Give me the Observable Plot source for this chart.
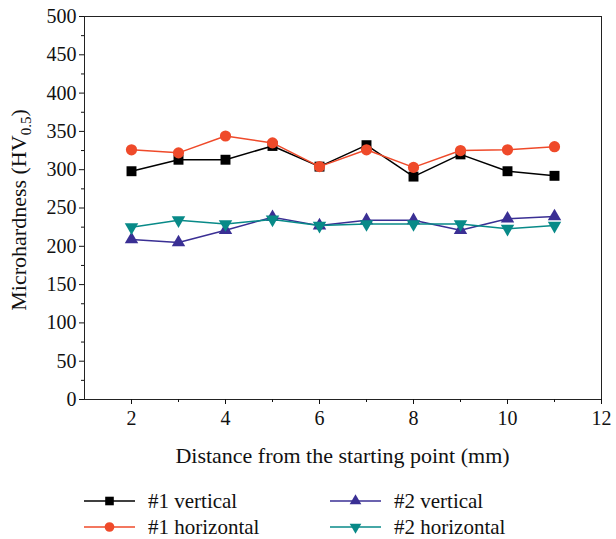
<!DOCTYPE html>
<html><head><meta charset="utf-8">
<script src="https://cdn.jsdelivr.net/npm/d3@7"></script>
<script src="https://cdn.jsdelivr.net/npm/@observablehq/plot@0.6"></script>
<style>
body{margin:0;background:#fff;font-family:"Liberation Serif",serif;}
#chart{position:relative;width:616px;}
#legend{position:relative;width:616px;height:64px;}
.item{position:absolute;display:flex;align-items:center;font-size:21px;color:#111;white-space:nowrap;line-height:24px;}
.item svg{margin-right:13px;}
</style></head><body><div id="chart"></div><div id="legend"></div>
<script>
const distance=[2,3,4,5,6,7,8,9,10,11];
const v1=[298,313,313,331,304,332,291,320,298,292];
const h1=[326,322,344,335,304,326,303,325,326,330];
const v2=[209,205,221,238,227,234,234,221,236,239];
const h2=[225,234,229,235,227,229,229,229,223,227];
const seriesNames=["#1 vertical","#1 horizontal","#2 vertical","#2 horizontal"];
const seriesValues=[v1,h1,v2,h2];
const seriesColors=["#000000","#ef4a2a","#3a2f94","#088a88"];
const seriesSymbols=["square","circle","triangle","triangle"];
const seriesRotate=[0,0,0,180];
const seriesR=[5.6,5.6,5,5];
const xTicks=[2,4,6,8,10,12];
const yTicks=[0,50,100,150,200,250,300,350,400,450,500];
const xTitle="Distance from the starting point (mm)";

const marks=[
  Plot.frame({stroke:"#222",strokeWidth:1}),
  Plot.axisY({ticks:yTicks,tickSize:5,tickFormat:()=>"",label:null}),
  Plot.axisY({ticks:d3.range(25,500,50),tickSize:3,tickFormat:()=>"",label:null}),
  Plot.axisX({ticks:xTicks,tickSize:5,tickFormat:()=>"",label:null}),
  Plot.axisX({ticks:d3.range(3,12,2),tickSize:3,tickFormat:()=>"",label:null}),
  Plot.text(yTicks,{y:d=>d,text:d=>String(d),frameAnchor:"left",dx:-8,textAnchor:"end",fontSize:20,fill:"#111"}),
  Plot.text(xTicks,{x:d=>d,text:d=>String(d),frameAnchor:"bottom",dy:25,fontSize:20,fill:"#111"})
];
seriesNames.forEach((name,i)=>{
  const data=distance.map((d,j)=>({x:d,y:seriesValues[i][j]}));
  marks.push(Plot.line(data,{x:"x",y:"y",stroke:seriesColors[i],strokeWidth:1.5}));
  marks.push(Plot.dot(data,{x:"x",y:"y",symbol:seriesSymbols[i],fill:seriesColors[i],r:seriesR[i],rotate:seriesRotate[i],stroke:"none"}));
});

const plot=Plot.plot({
  width:616,height:475,marginLeft:84,marginRight:15,marginTop:16,marginBottom:76,
  style:{fontFamily:"'Liberation Serif', serif",fontSize:"20px",color:"#111",background:"#fff",overflow:"visible"},
  x:{domain:[1,12]},
  y:{domain:[0,500]},
  marks
});
document.getElementById("chart").appendChild(plot);

const svg=d3.select(plot);
// x-axis title
svg.append("text")
  .attr("x",(84+601)/2).attr("y",463)
  .attr("text-anchor","middle")
  .attr("font-family","'Liberation Serif', serif")
  .attr("font-size",22).attr("fill","#111")
  .text(xTitle);
// y-axis title with subscript
const t=svg.append("text")
  .attr("transform","translate(26,210) rotate(-90)")
  .attr("text-anchor","middle")
  .attr("font-family","'Liberation Serif', serif")
  .attr("font-size",22)
  .attr("fill","#111");
t.append("tspan").text("Microhardness (HV");
t.append("tspan").attr("font-size",15).attr("dy",5).text("0.5");
t.append("tspan").attr("dy",-5).text(")");

// legend
const legend=d3.select("#legend");
const pos=[[84,26],[84,52],[330,26],[330,52]];
seriesNames.forEach((name,i)=>{
  const item=legend.append("div").attr("class","item")
    .style("left",pos[i][0]+"px").style("top",(pos[i][1]-12)+"px");
  const s=item.append("svg").attr("width",51).attr("height",24);
  s.append("line").attr("x1",0).attr("x2",51).attr("y1",12).attr("y2",12)
    .attr("stroke",seriesColors[i]).attr("stroke-width",1.5);
  const symMap={square:d3.symbolSquare,circle:d3.symbolCircle,triangle:d3.symbolTriangle};
  s.append("path").attr("d",d3.symbol(symMap[seriesSymbols[i]],Math.PI*seriesR[i]*seriesR[i]*0.75)())
    .attr("transform",`translate(25.5,12) rotate(${seriesRotate[i]})`)
    .attr("fill",seriesColors[i]);
  item.append("span").text(name);
});
</script></body></html>
